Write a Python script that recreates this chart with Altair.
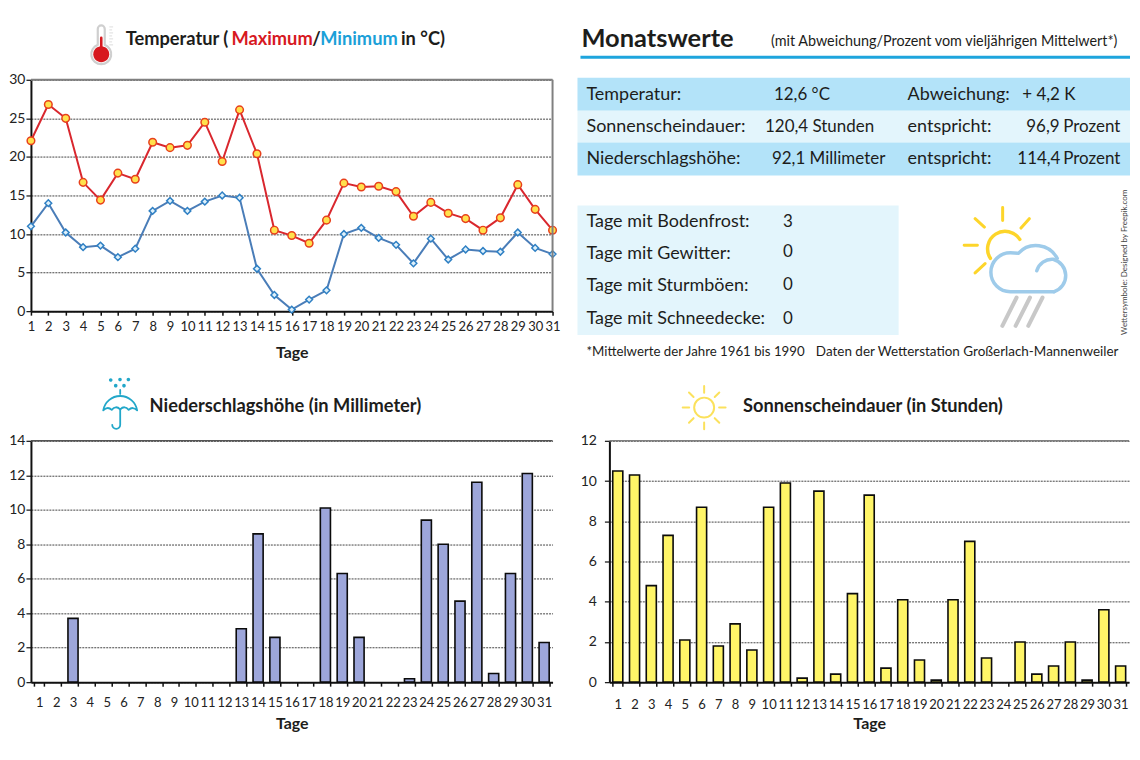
import altair as alt
import pandas as pd

days = list(range(1, 32))
temp_max = [22.1, 26.8, 25.0, 16.7, 14.4, 17.9, 17.1, 21.9, 21.2, 21.5, 24.5, 19.4, 26.1, 20.4, 10.5, 9.8,
            8.8, 11.8, 16.6, 16.1, 16.2, 15.5, 12.3, 14.1, 12.7, 12.0, 10.5, 12.1, 16.4, 13.2, 10.5]
temp_min = [11.0, 14.0, 10.2, 8.3, 8.5, 7.0, 8.1, 13.0, 14.3, 13.0, 14.2, 15.0, 14.7, 5.5, 2.1, 0.2,
            1.5, 2.7, 10.0, 10.8, 9.5, 8.6, 6.2, 9.4, 6.7, 8.0, 7.8, 7.7, 10.2, 8.2, 7.4]
rain = [0, 0, 3.7, 0, 0, 0, 0, 0, 0, 0, 0, 0, 3.1, 8.6, 2.6, 0,
        0, 10.1, 6.3, 2.6, 0, 0, 0.2, 9.4, 8.0, 4.7, 11.6, 0.5, 6.3, 12.1, 2.3]
sun = [10.5, 10.3, 4.8, 7.3, 2.1, 8.7, 1.8, 2.9, 1.6, 8.7, 9.9, 0.2, 9.5, 0.4, 4.4, 9.3,
       0.7, 4.1, 1.1, 0.1, 4.1, 7.0, 1.2, 0, 2.0, 0.4, 0.8, 2.0, 0.1, 3.6, 0.8]

FONT = "Lato"
INK = "#1d1d1b"
RED = "#d7191f"
CYAN = "#1ba0d8"
TOPLEFT = (30, 79)
TOPRIGHT = (610, 79)
BOTLEFT = (30, 441)
BOTRIGHT = (610, 441)
dummy = pd.DataFrame({"a": [0]})
df = pd.DataFrame({"day": days, "tmax": temp_max, "tmin": temp_min, "rain": rain, "sun": sun})


def text(origin, s, x, y, size=18.3, color=INK, weight="normal", align="left", angle=0):
    return alt.Chart(dummy).mark_text(text=s, font=FONT, fontSize=size, color=color, fontWeight=weight,
                                      align=align, baseline="middle", angle=angle).encode(
        x=alt.value(x - origin[0]), y=alt.value(y - origin[1]))


def rect(origin, x0, y0, x1, y1, color):
    return alt.Chart(dummy).mark_rect(color=color, opacity=1).encode(
        x=alt.value(x0 - origin[0]), x2=alt.value(x1 - origin[0]),
        y=alt.value(y0 - origin[1]), y2=alt.value(y1 - origin[1]))


def rule(origin, x0, y0, x1, y1, color, width):
    return alt.Chart(dummy).mark_rule(color=color, strokeWidth=width).encode(
        x=alt.value(x0 - origin[0]), x2=alt.value(x1 - origin[0]),
        y=alt.value(y0 - origin[1]), y2=alt.value(y1 - origin[1]))


def icon(origin, path, stroke=None, width=2, fill=None):
    kw = dict(shape=path, size=4, opacity=1, strokeCap="round", strokeJoin="round", strokeWidth=width)
    kw["filled"] = fill is not None
    if fill is not None:
        kw["fill"] = fill
    if stroke is not None:
        kw["stroke"] = stroke
    else:
        kw["strokeWidth"] = 0
    return alt.Chart(dummy).mark_point(**kw).encode(x=alt.value(-origin[0]), y=alt.value(-origin[1]))


def circle(cx, cy, r):
    return f"M{cx - r},{cy} A{r},{r} 0 1 0 {cx + r},{cy} A{r},{r} 0 1 0 {cx - r},{cy} Z"


def y_axis(vals, pad):
    return alt.Axis(values=vals, title=None, grid=True, gridColor="#444444", gridDash=[2, 1], gridWidth=1,
                    domainColor="#111111", domainWidth=2, tickColor="#111111", tickSize=5, tickWidth=1.2,
                    labelFont=FONT, labelFontSize=14, labelColor="#222222", labelPadding=pad)


def x_axis(pad, band=False, title_pad=6):
    kw = dict(title="Tage", labelAngle=0, grid=False, domainColor="#111111", domainWidth=2, tickColor="#111111",
              tickSize=4, tickWidth=1.5, labelFont=FONT, labelFontSize=13, labelColor="#222222", labelPadding=pad,
              titleFont=FONT, titleFontSize=16, titleFontWeight="bold", titleColor=INK, titlePadding=title_pad)
    if band:
        kw["tickBand"] = "extent"
    return alt.Axis(**kw)


# --- temperature panel
o = TOPLEFT
X = alt.X("day:O", scale=alt.Scale(type="point", padding=0), axis=x_axis(5, title_pad=11))
Y = alt.Scale(domain=[0, 30])
YA = y_axis([0, 5, 10, 15, 20, 25, 30], 1)
base = alt.Chart(df)
temp_layers = [
    base.mark_line(color="#4a7db8", strokeWidth=2).encode(x=X, y=alt.Y("tmin:Q", scale=Y, axis=YA)),
    base.mark_point(shape="diamond", filled=True, fill="#dff1fb", stroke="#2f80c4", strokeWidth=1.5, size=46,
                    opacity=1).encode(x=X, y=alt.Y("tmin:Q", scale=Y, axis=YA)),
    base.mark_line(color="#d9272e", strokeWidth=2).encode(x=X, y=alt.Y("tmax:Q", scale=Y, axis=YA)),
    base.mark_point(shape="circle", filled=True, fill="#ffe14d", stroke="#e8401c", strokeWidth=1.5, size=58,
                    opacity=1).encode(x=X, y=alt.Y("tmax:Q", scale=Y, axis=YA)),
    rule(o, 30, 79, 553, 79, "#808080", 2),
    rule(o, 553, 79, 553, 311, "#808080", 2),
    # thermometer
    icon(o, "M97,44 L97,28 A3.5,3.5 0 0 1 104,28 L104,44 A10,10 0 1 1 97,44 Z", "#cfcfcf", 2.2, "#ffffff"),
    icon(o, circle(100.5, 53.5, 8), None, 0, RED),
    icon(o, "M100.5,37 L100.5,50", RED, 2.6),
    icon(o, "M109,26 L112,26 M109,29 L111,29 M109,32 L112,32 M109,35 L111,35 M109,38 L112,38 M109,41 L111,41 M109,44 L112,44",
         "#dddddd", 1),
    text(o, "Temperatur (", 125, 39, weight="bold"),
    text(o, "Maximum", 231, 39, color=RED, weight="bold"),
    text(o, "/", 312, 39, weight="bold"),
    text(o, "Minimum", 320, 39, color=CYAN, weight="bold"),
    text(o, "in °C)", 401, 39, weight="bold"),
]
temp_panel = alt.layer(*temp_layers).properties(width=523, height=232)

# --- summary panel
o = TOPRIGHT
BLUE1 = "#b3e3f9"
BLUE2 = "#e3f5fc"
rows_label = [("Temperatur:", 587, 94), ("Abweichung:", 909, 94),
              ("Sonnenscheindauer:", 587, 126), ("entspricht:", 909, 126),
              ("Niederschlagshöhe:", 587, 158), ("entspricht:", 909, 158),
              ("Tage mit Bodenfrost:", 587, 222), ("Tage mit Gewitter:", 587, 254),
              ("Tage mit Sturmböen:", 587, 286), ("Tage mit Schneedecke:", 587, 319)]
rows_value = [("12,6 °C", 775, 94), ("+ 4,2 K", 1024, 94),
              ("120,4 Stunden", 766, 126), ("96,9", 1028, 126), ("Prozent", 1065, 126),
              ("92,1 Millimeter", 773, 158), ("114,4", 1019, 158), ("Prozent", 1065, 158),
              ("3", 784, 222), ("0", 784, 252), ("0", 784, 285), ("0", 784, 319)]
summary_layers = [
    rect(o, 578, 77, 1132, 110, BLUE1),
    rect(o, 578, 110, 1132, 142, BLUE2),
    rect(o, 578, 142, 1132, 175, BLUE1),
    rect(o, 578, 205, 900, 335, BLUE2),
    rule(o, 581, 56.5, 1132, 56.5, "#1ea5dd", 3),
    text(o, "Monatswerte", 582, 38, size=25.5, weight="bold"),
    text(o, "(mit Abweichung/Prozent vom vieljährigen Mittelwert*)", 772, 41, size=14.4),
    text(o, "*Mittelwerte der Jahre 1961 bis 1990", 587, 352, size=13.3),
    text(o, "Daten der Wetterstation Großerlach-Mannenweiler", 817, 352, size=13.5),
    text(o, "Wettersymbole:  Designed  by  Freepik.com", 1127, 262, size=8, color="#444444", align="center", angle=270),
    # weather icon
    icon(o, "M1021.5,239 A17,17 0 1 0 992,258", "#fdd52a", 3.5),
    icon(o, "M1004.3,207 L1004.3,220 M1031,218.3 L1022.7,227.7 M976.7,218.3 L986,226.7 M965.7,245 L979,245 M976.7,272.7 L986.7,263.3",
         "#fdd52a", 3),
    icon(o, "M1056,291.5 L1012,291.5 A19.5,19.5 0 0 1 1012,252.5 Q1017,252.5 1020,253 A24,24 0 0 1 1059,258",
         "#9ecbea", 3.5),
    icon(o, "M1038.5,270.5 A16,16 0 0 1 1055,259 A17,17 0 0 1 1056,291.5", "#9ecbea", 3.5),
    icon(o, "M1018.3,297.3 L1004,325.7 M1031.7,297.3 L1017.3,325.7 M1044.3,297.3 L1030,325.7", "#c8c8c8", 4),
] + [text(o, s, x, y, size=18) for s, x, y in rows_label] + [text(o, s, x, y, size=17) for s, x, y in rows_value]
summary_panel = alt.layer(*summary_layers).properties(width=521, height=232)

# --- precipitation panel
o = BOTLEFT
BAND = alt.Scale(domain=days, paddingInner=0.4, paddingOuter=0.2)
rain_layers = [
    base.transform_filter("datum.rain > 0").mark_bar(color="#9da6da", stroke="#0b0b0b", strokeWidth=1.6,
                                                     opacity=1).encode(
        x=alt.X("day:O", scale=BAND, axis=x_axis(10, band=True, title_pad=6)),
        y=alt.Y("rain:Q", scale=alt.Scale(domain=[0, 14]), axis=y_axis([0, 2, 4, 6, 8, 10, 12, 14], 1))),
    rule(o, 30, 441, 553, 441, "#555555", 1.5),
    icon(o, "M102.5,410.5 A17.2,17 0 0 1 136.5,410.5 Q132,406 128,410 Q124,405 119.5,409.5 Q115,405 111,410 Q107,406 102.5,410.5 Z",
         "#22a7c9", 1.8),
    icon(o, "M119.5,390 L119.5,394 M119.5,409 L119.5,425 A4,4 0 0 1 111.5,425", "#22a7c9", 1.8),
    icon(o, circle(110, 380, 1.8) + " " + circle(119.3, 379.5, 1.8) + " " + circle(127.7, 379.5, 1.8) + " "
         + circle(115, 385.7, 1.8) + " " + circle(123.3, 385.7, 1.8), None, 0, "#22a7c9"),
    text(o, "Niederschlagshöhe (in Millimeter)", 149, 407, weight="bold"),
]
rain_panel = alt.layer(*rain_layers).properties(width=523, height=242)

# --- sunshine panel
o = BOTRIGHT
sun_layers = [
    base.transform_filter("datum.sun > 0").mark_bar(color="#fff568", stroke="#0b0b0b", strokeWidth=1.6,
                                                    opacity=1).encode(
        x=alt.X("day:O", scale=BAND, axis=x_axis(12, band=True, title_pad=4)),
        y=alt.Y("sun:Q", scale=alt.Scale(domain=[0, 12]), axis=y_axis([0, 2, 4, 6, 8, 10, 12], 8))),
    rule(o, 610, 441, 1131, 441, "#808080", 1.5),
    icon(o, circle(705, 407.7, 10), "#fbe15c", 2),
    icon(o, "M705,386 L705,392.7 M705,422.7 L705,429.4 M683.5,407.7 L690,407.7 M720,407.7 L726.5,407.7 "
            "M689.8,392.5 L694.4,397.1 M715.6,418.3 L720.2,422.9 M689.8,422.9 L694.4,418.3 M715.6,397.1 L720.2,392.5",
         "#fbe15c", 2),
    text(o, "Sonnenscheindauer (in Stunden)", 744, 407, weight="bold"),
]
sun_panel = alt.layer(*sun_layers).properties(width=521, height=242)

chart = alt.concat(temp_panel, summary_panel, rain_panel, sun_panel, columns=2, bounds="flush",
                   spacing=alt.RowColnumber(row=130, column=57)).properties(
    padding={"left": 0, "top": 15, "right": 0, "bottom": 0}, background="white"
).configure_view(stroke=None).resolve_scale(x="independent", y="independent")

chart.save("out.html", embed_options={"renderer": "svg", "actions": False})
